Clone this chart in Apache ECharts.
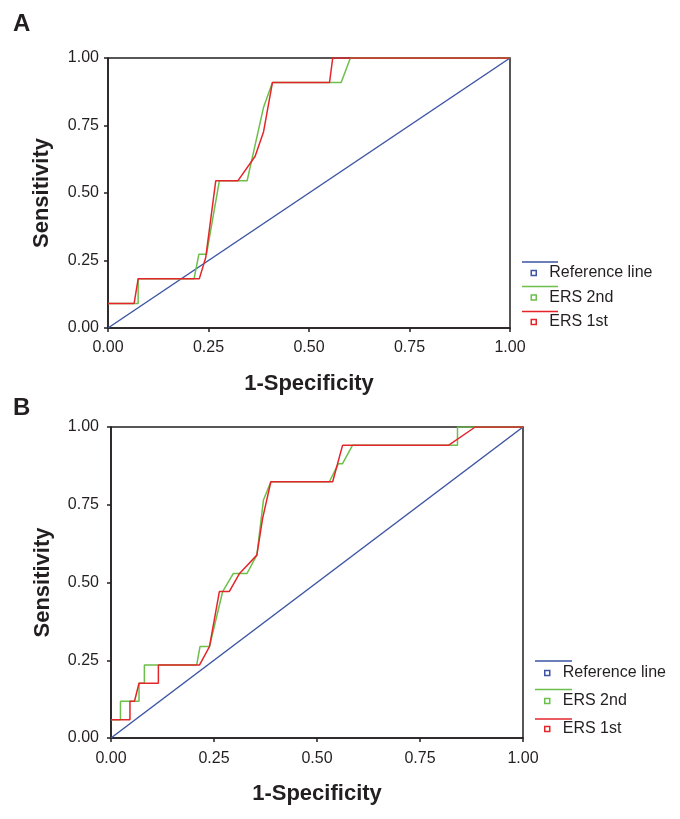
<!DOCTYPE html>
<html>
<head>
<meta charset="utf-8">
<script src="https://cdn.jsdelivr.net/npm/echarts@6/dist/echarts.min.js"></script>
<style>
html,body{margin:0;padding:0;background:#fff;}
#chart{width:680px;height:819px;}
</style>
</head>
<body>
<div id="chart"></div>
<script>
// ---- data ----
var seriesNames = ['Reference line', 'ERS 2nd', 'ERS 1st'];
var axisTicks = [0, 0.25, 0.5, 0.75, 1];
var panelLabels = ['A', 'B'];

var refLine = [[0, 0], [1, 1]];

var panelA_ers2 = [[0,0.091],[0.075,0.091],[0.075,0.182],[0.214,0.182],[0.226,0.273],[0.245,0.273],[0.277,0.545],[0.346,0.545],[0.387,0.818],[0.409,0.909],[0.580,0.909],[0.603,1],[1,1]];
var panelA_ers1 = [[0,0.091],[0.065,0.091],[0.075,0.182],[0.227,0.182],[0.243,0.26],[0.268,0.545],[0.323,0.545],[0.366,0.636],[0.387,0.727],[0.409,0.909],[0.551,0.909],[0.559,1],[1,1]];

var panelB_ers2 = [[0,0.059],[0.023,0.059],[0.023,0.118],[0.068,0.118],[0.068,0.176],[0.081,0.176],[0.081,0.235],[0.208,0.235],[0.216,0.294],[0.239,0.294],[0.271,0.471],[0.297,0.529],[0.330,0.529],[0.354,0.588],[0.370,0.765],[0.388,0.824],[0.530,0.824],[0.552,0.882],[0.562,0.882],[0.586,0.941],[0.841,0.941],[0.841,1],[1,1]];
var panelB_ers1 = [[0,0.059],[0.046,0.059],[0.046,0.118],[0.057,0.118],[0.068,0.176],[0.115,0.176],[0.115,0.235],[0.215,0.235],[0.239,0.294],[0.263,0.471],[0.287,0.471],[0.312,0.529],[0.354,0.588],[0.368,0.706],[0.388,0.824],[0.538,0.824],[0.562,0.941],[0.819,0.941],[0.884,1],[1,1]];

// ---- styling ----
var FONT = '"Liberation Sans", Arial, Helvetica, sans-serif';
var colors = ['#3d55a3', '#6cbf4a', '#e4262b'];
var axisColor = '#231f20';

var panelData = [
  [refLine, panelA_ers2, panelA_ers1],
  [refLine, panelB_ers2, panelB_ers1]
];

var grids = [
  {left: 108, top: 58, width: 402, height: 270},
  {left: 111, top: 427, width: 412, height: 311}
];

function fmt(v) { return v.toFixed(2); }

function xAxisFor(i) {
  return {
    type: 'value', gridIndex: i, min: axisTicks[0], max: axisTicks[axisTicks.length - 1], interval: 0.25,
    name: '1-Specificity', nameLocation: 'middle', nameGap: 45,
    nameTextStyle: {fontFamily: FONT, fontSize: 22, fontWeight: 'bold', color: axisColor},
    axisLine: {show: true, lineStyle: {color: axisColor, width: 1.5}},
    axisTick: {show: true, length: 4, lineStyle: {color: axisColor, width: 1.5}},
    axisLabel: {fontFamily: FONT, fontSize: 16, color: axisColor, margin: i === 0 ? 12 : 13, formatter: fmt},
    splitLine: {show: false}
  };
}
function yAxisFor(i) {
  return {
    type: 'value', gridIndex: i, min: axisTicks[0], max: axisTicks[axisTicks.length - 1], interval: 0.25,
    name: 'Sensitivity', nameLocation: 'middle', nameGap: i === 0 ? 55 : 57,
    nameTextStyle: {fontFamily: FONT, fontSize: 22, fontWeight: 'bold', color: axisColor},
    axisLine: {show: true, lineStyle: {color: axisColor, width: 1.5}},
    axisTick: {show: true, length: 4, lineStyle: {color: axisColor, width: 1.5}},
    axisLabel: {fontFamily: FONT, fontSize: 16, color: axisColor, margin: i === 0 ? 9 : 12, formatter: fmt},
    splitLine: {show: false}
  };
}

var series = [];
for (var p = 0; p < 2; p++) {
  for (var s = 0; s < 3; s++) {
    series.push({
      name: seriesNames[s], type: 'line',
      xAxisIndex: p, yAxisIndex: p,
      data: panelData[p][s],
      showSymbol: false, symbol: 'none',
      lineStyle: {color: colors[s], width: 1.5},
      itemStyle: {color: colors[s]},
      animation: false, silent: true
    });
  }
}

var legendPos = [
  {left: 530.5, top: 265, itemGap: 8.5, lineX: [522, 558], lineY: [262, 286.5, 311.5]},
  {left: 544, top: 665, itemGap: 12, lineX: [535, 572], lineY: [661, 689.5, 719]}
];

var legends = legendPos.map(function (lp) {
  return {
    orient: 'vertical', left: lp.left, top: lp.top, itemGap: lp.itemGap,
    itemWidth: 5, itemHeight: 5,
    textStyle: {fontFamily: FONT, fontSize: 16, color: axisColor, padding: [0, 0, 0, 8]},
    data: seriesNames.map(function (n, k) {
      return {
        name: n, icon: 'rect',
        itemStyle: {color: '#ffffff', borderColor: colors[k], borderWidth: 1.5, opacity: 1}
      };
    }),
    selectedMode: false, padding: 0
  };
});

var graphics = [];
legendPos.forEach(function (lp) {
  lp.lineY.forEach(function (y, k) {
    graphics.push({
      type: 'line', silent: true,
      shape: {x1: lp.lineX[0], y1: y, x2: lp.lineX[1], y2: y},
      style: {stroke: colors[k], lineWidth: 1.5}
    });
  });
});

var chart = echarts.init(document.getElementById('chart'), null, {renderer: 'canvas'});
chart.setOption({
  animation: false,
  backgroundColor: '#ffffff',
  title: [
    {text: panelLabels[0], left: 13, top: 12, padding: 0,
      textStyle: {fontFamily: FONT, fontSize: 24, fontWeight: 'bold', color: axisColor}},
    {text: panelLabels[1], left: 13, top: 396, padding: 0,
      textStyle: {fontFamily: FONT, fontSize: 24, fontWeight: 'bold', color: axisColor}}
  ],
  grid: grids.map(function (g) {
    return Object.assign({show: true, borderColor: axisColor, borderWidth: 1.5, backgroundColor: 'transparent', containLabel: false}, g);
  }),
  xAxis: [xAxisFor(0), xAxisFor(1)],
  yAxis: [yAxisFor(0), yAxisFor(1)],
  legend: legends,
  graphic: graphics,
  series: series
});
</script>
</body>
</html>
